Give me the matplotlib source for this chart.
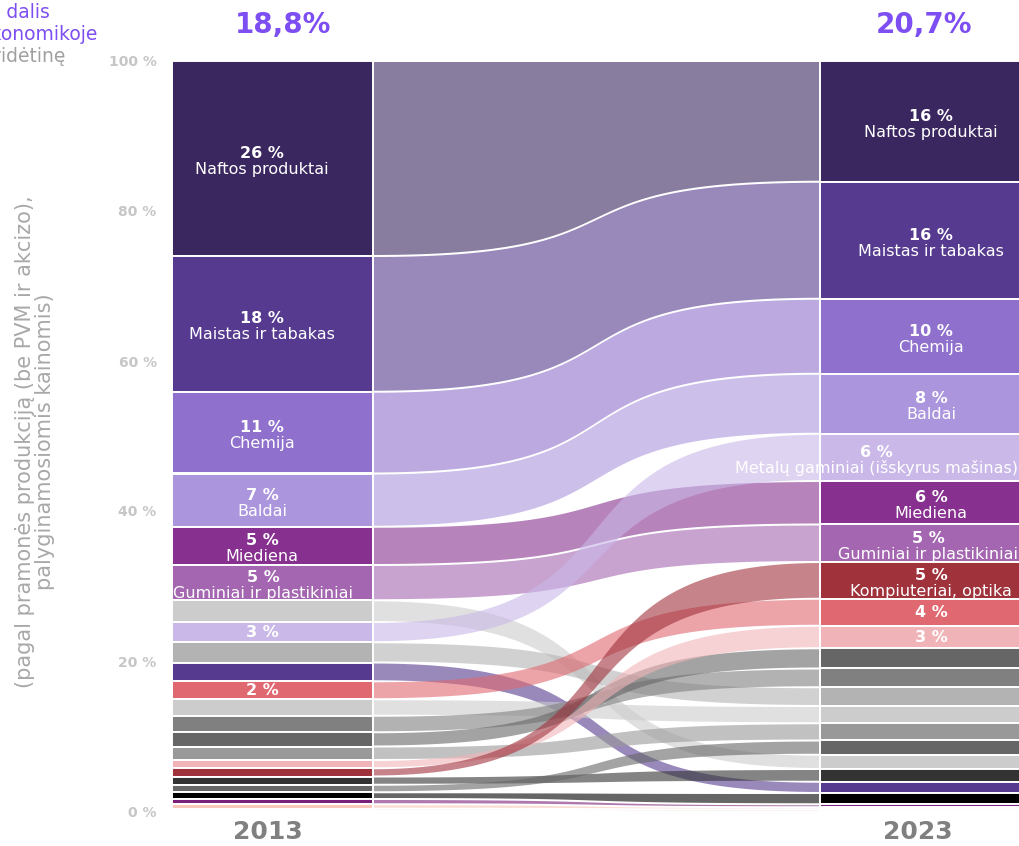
import numpy as np
import matplotlib.pyplot as plt
from matplotlib.patches import Rectangle, Polygon

years = [2013, 2023]
industry_share = [18.8, 20.7]

sectors = ["Naftos produktai", "Maistas ir tabakas", "Chemija", "Baldai", "Miediena",
           "Guminiai ir plastikiniai", "Kita 1", "Metalų gaminiai (išskyrus mašinas)",
           "Kita 2", "Kita 3", "Kita 4", "Kita 5", "Kita 6", "Kita 7", "Kita 8", "Kita 9",
           "Kompiuteriai, optika", "Kita 10", "Kita 11", "Kita 12", "Kita 13", "Kita 14",
           "Kita 15"]
share_2013 = [26.0, 18.1, 10.9, 7.1, 5.1, 4.7, 2.9, 2.7, 2.7, 2.5, 2.4, 2.2, 2.2,
              1.9, 1.8, 1.1, 1.1, 1.1, 1.0, 0.9, 0.7, 0.6, 0.3]
share_2023 = [16.1, 15.6, 10.0, 8.0, 5.8, 5.0, 1.9, 6.3, 2.5, 1.5, 3.6, 2.3, 2.5,
              2.7, 2.3, 3.0, 4.9, 1.7, 1.9, 1.5, 0.4, 0.3, 0.2]
colors = ["#3b2760", "#553a8f", "#8f70cc", "#ab95dc", "#87308f", "#a466b0", "#cccccc",
          "#c9b8e8", "#b3b3b3", "#553a8f", "#e06870", "#cccccc", "#808080", "#666666",
          "#999999", "#f0b4b8", "#a0323c", "#333333", "#666666", "#000000", "#7a1f7a",
          "#f8c8b8", "#dddddd"]
# top-to-bottom order of the nodes in each column
order_2013 = list(range(len(sectors)))
order_2023 = [0, 1, 2, 3, 7, 4, 5, 16, 10, 15, 13, 12, 8, 11, 14, 18, 6, 17, 9, 19, 20, 21, 22]
labelled = ["Naftos produktai", "Maistas ir tabakas", "Chemija", "Baldai", "Miediena",
            "Guminiai ir plastikiniai", "Metalų gaminiai (išskyrus mašinas)",
            "Kompiuteriai, optika", "Kita 4", "Kita 9"]

PURPLE = "#7d4ef2"
W, H = 1020, 846


def stack(values, order):
    pos = {}
    top = 100.0
    for i in order:
        pos[i] = (top - values[i], top)
        top -= values[i]
    return pos


def link_curve(x0, x1, y0, y1, c=0.65, n=80):
    u = np.linspace(0, 1, n)
    xa, xb = x0 + c * (x1 - x0), x1 - c * (x1 - x0)
    x = (1 - u) ** 3 * x0 + 3 * (1 - u) ** 2 * u * xa + 3 * (1 - u) * u ** 2 * xb + u ** 3 * x1
    s = 3 * (1 - u) * u ** 2 + u ** 3
    return x, y0 + (y1 - y0) * s


fig = plt.figure(figsize=(W / 100, H / 100), dpi=100)
ax = fig.add_axes([172 / W, 35 / H, 848 / W, 750 / H])
ax.set_xlim(0, 848)
ax.set_ylim(0, 100)

left_x = (0, 201)
right_x = (648, 880)
gap = 0.27

pos_l = stack(share_2013, order_2013)
pos_r = stack(share_2023, order_2023)

# flows
for i in range(len(sectors)):
    lb, lt = pos_l[i]
    rb, rt = pos_r[i]
    xs, top = link_curve(left_x[1], right_x[0], lt - gap / 2, rt - gap / 2)
    _, bot = link_curve(left_x[1], right_x[0], lb + gap / 2, rb + gap / 2)
    poly = np.column_stack([np.concatenate([xs, xs[::-1]]), np.concatenate([top, bot[::-1]])])
    ax.add_patch(Polygon(poly, closed=True, facecolor=colors[i], alpha=0.6,
                         edgecolor="none", zorder=1))

# nodes and labels
label_groups = []
for values, pos, order, (xa, xb), lx in [(share_2013, pos_l, order_2013, left_x, 90),
                                         (share_2023, pos_r, order_2023, right_x, 759)]:
    for k, i in enumerate(order):
        b, t = pos[i]
        ax.add_patch(Rectangle((xa, b), xb - xa, t - b, facecolor=colors[i],
                               edgecolor="white", linewidth=1.4, zorder=2 + 2 * k,
                               clip_on=True))
        v = values[i]
        if sectors[i] not in labelled or v < 2:
            continue
        yc = (b + t) / 2
        pct = "%d %%" % int(np.floor(v + 0.5))
        grp = []
        if v >= 4.5:
            grp.append(ax.text(lx, yc + 0.67, pct, ha="center", va="center", color="white",
                               fontsize=11.5, fontweight="bold", zorder=3 + 2 * k))
            grp.append(ax.text(lx, yc - 1.47, sectors[i], ha="center", va="center",
                               color="white", fontsize=11.5, zorder=3 + 2 * k))
        else:
            grp.append(ax.text(lx, yc, pct, ha="center", va="center", color="white",
                               fontsize=11.5, fontweight="bold", zorder=3 + 2 * k))
        label_groups.append(grp)

# keep labels inside the picture
fig.canvas.draw()
rend = fig.canvas.get_renderer()
for grp in label_groups:
    x0 = min(t.get_window_extent(rend).x0 for t in grp)
    x1 = max(t.get_window_extent(rend).x1 for t in grp)
    shift = 0
    if x1 > W - 2:
        shift = -(x1 - (W - 2))
    elif x0 < 173:
        shift = 173 - x0
    for t in grp:
        t.set_x(t.get_position()[0] + shift)

# column headers and years
for x, share in zip([111, 752], industry_share):
    ax.text(x, 104.8, ("%.1f%%" % share).replace(".", ","), ha="center", va="center",
            color=PURPLE, fontsize=20, fontweight="bold", clip_on=False)
for x, yr in zip([96, 746], years):
    ax.text(x, -2.75, str(yr), ha="center", va="center", color="#808080",
            fontsize=18, fontweight="bold", clip_on=False)

ax.set_yticks([0, 20, 40, 60, 80, 100])
ax.set_yticklabels(["%d %%" % v for v in [0, 20, 40, 60, 80, 100]])
ax.tick_params(axis="y", length=0, pad=11, labelcolor="#c6c6c6", labelsize=10)
for lab in ax.get_yticklabels():
    lab.set_fontweight("bold")
ax.set_xticks([])
for sp in ax.spines.values():
    sp.set_visible(False)

fig.text(35 / W, 1 - 442 / H,
         "(pagal pramonės produkciją (be PVM ir akcizo),\npalyginamosiomis kainomis)",
         rotation=90, ha="center", va="center", multialignment="center",
         color="#a8a8a8", fontsize=15, linespacing=1.05)

fig.text(50 / W, 1 - 12 / H, "Pramonės dalis", ha="right", va="center",
         color=PURPLE, fontsize=13.5)
fig.text(97 / W, 1 - 34 / H, "ekonomikoje", ha="right", va="center",
         color=PURPLE, fontsize=13.5)
fig.text(65 / W, 1 - 57 / H, "(pagal pridėtinę", ha="right", va="center",
         color="#a0a0a0", fontsize=13.5)

fig.savefig("out.png", dpi=100)
